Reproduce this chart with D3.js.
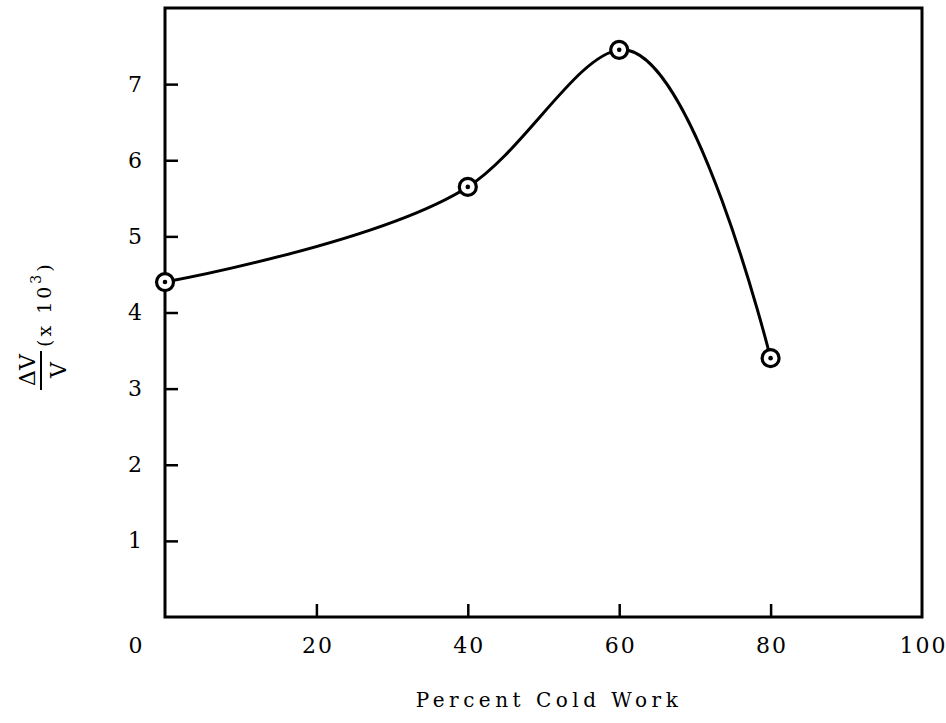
<!DOCTYPE html>
<html>
<head>
<meta charset="utf-8">
<script src="https://cdn.jsdelivr.net/npm/d3@7"></script>
<style>
  body { margin: 0; background: #fff; }
  svg { display: block; }
  text { font-family: "DejaVu Serif", serif; fill: #000; }
</style>
</head>
<body>
<svg id="chart" width="946" height="723"></svg>
<script>
// data
const coldWork = [0, 40, 60, 80];          // percent cold work
const deltaV = [4.40, 5.65, 7.45, 3.40];   // dV/V (x 10^3)
const xTicks = [0, 20, 40, 60, 80, 100];
const yTicks = [1, 2, 3, 4, 5, 6, 7];

const svg = d3.select("#chart");
const x = d3.scaleLinear().domain([0, 100]).range([165, 922]);
const y = d3.scaleLinear().domain([0, 8]).range([617, 8]);

// frame
svg.append("rect")
    .attr("x", x(0))
    .attr("y", y(8))
    .attr("width", x(100) - x(0))
    .attr("height", y(0) - y(8))
    .attr("fill", "none")
    .attr("stroke", "#000")
    .attr("stroke-width", 3);

// bottom axis, ticks pointing inward
const xAxis = svg.append("g")
    .attr("transform", `translate(0,${y(0)})`)
    .call(d3.axisBottom(x).tickValues(xTicks).tickSizeInner(-13).tickSizeOuter(0).tickPadding(20));
xAxis.select(".domain").remove();
xAxis.selectAll(".tick line")
    .attr("stroke-width", 2.5)
    .attr("opacity", d => (d === 0 || d === 100) ? 0 : 1);
xAxis.selectAll(".tick text")
    .attr("font-size", 22)
    .attr("font-family", "DejaVu Serif")
    .attr("letter-spacing", 2)
    .attr("dx", d => d === 0 ? -29 : 1);

// left axis
const yAxis = svg.append("g")
    .attr("transform", `translate(${x(0)},0)`)
    .call(d3.axisLeft(y).tickValues(yTicks).tickSizeInner(-13).tickSizeOuter(0).tickPadding(23));
yAxis.select(".domain").remove();
yAxis.selectAll(".tick line").attr("stroke-width", 2.5);
yAxis.selectAll(".tick text")
    .attr("font-size", 22)
    .attr("font-family", "DejaVu Serif");

// curve
const pts = coldWork.map((c, i) => [c, deltaV[i]]);
const line = d3.line()
    .x(d => x(d[0]))
    .y(d => y(d[1]))
    .curve(d3.curveCatmullRom.alpha(1));

svg.append("path")
    .datum(pts)
    .attr("d", line)
    .attr("fill", "none")
    .attr("stroke", "#000")
    .attr("stroke-width", 3);

// circled-dot markers
const marks = svg.selectAll("g.mark")
    .data(pts)
    .join("g")
    .attr("class", "mark")
    .attr("transform", d => `translate(${x(d[0])},${y(d[1])})`);
marks.append("circle")
    .attr("r", 8.5)
    .attr("fill", "#fff")
    .attr("stroke", "#000")
    .attr("stroke-width", 3.2);
marks.append("circle")
    .attr("r", 2.3)
    .attr("fill", "#000");

// x title
svg.append("text")
    .attr("x", 549)
    .attr("y", 707)
    .attr("text-anchor", "middle")
    .attr("font-size", 20)
    .attr("letter-spacing", 4.5)
    .text("Percent Cold Work");

// y title: fraction dV/V followed by (x 10^3), rotated
const yl = svg.append("g").attr("transform", "rotate(-90)");
yl.append("text")
    .attr("x", -370)
    .attr("y", 35)
    .attr("text-anchor", "middle")
    .attr("font-size", 22)
    .text("ΔV");
yl.append("line")
    .attr("x1", -390)
    .attr("x2", -351)
    .attr("y1", 41)
    .attr("y2", 41)
    .attr("stroke", "#000")
    .attr("stroke-width", 2);
yl.append("text")
    .attr("x", -370)
    .attr("y", 66)
    .attr("text-anchor", "middle")
    .attr("font-size", 22)
    .text("V");
const paren = yl.append("text")
    .attr("x", -347)
    .attr("y", 51)
    .attr("font-size", 19)
    .attr("letter-spacing", 3);
paren.append("tspan").text("(x 10");
paren.append("tspan").attr("font-size", 14).attr("dy", -10).text("3");
paren.append("tspan").attr("dy", 10).text(")");
</script>
</body>
</html>
